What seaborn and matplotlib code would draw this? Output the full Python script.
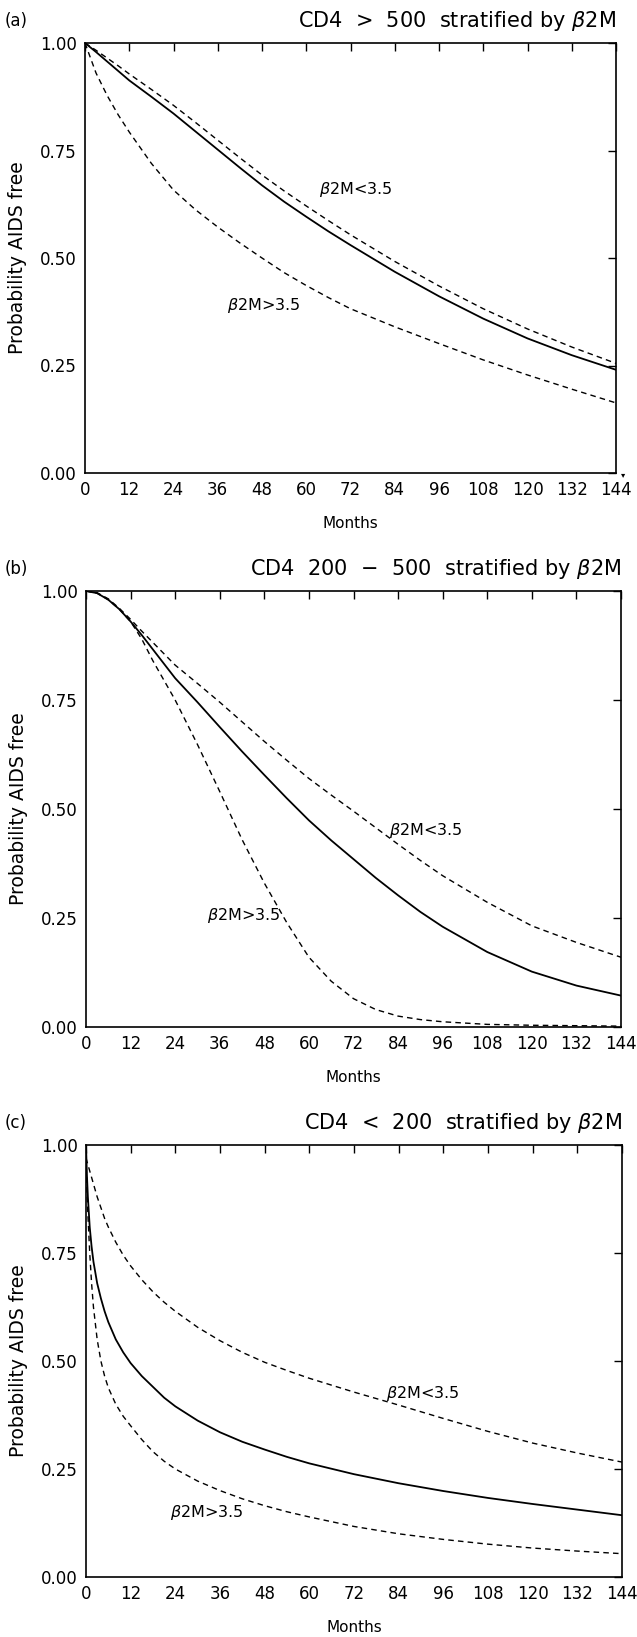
import numpy as np
import pandas as pd
import matplotlib
matplotlib.use("Agg")
import matplotlib.pyplot as plt
import seaborn as sns

# ---------------- data ----------------
months_ticks = [0, 12, 24, 36, 48, 60, 72, 84, 96, 108, 120, 132, 144]
y_ticks = [0.0, 0.25, 0.50, 0.75, 1.00]
y_ticklabels = ["0.00", "0.25", "0.50", "0.75", "1.00"]

panel_letters = ["(a)", "(b)", "(c)"]
panel_titles = [r"CD4  >  500  stratified by $\beta$2M",
                r"CD4  200  $-$  500  stratified by $\beta$2M",
                r"CD4  <  200  stratified by $\beta$2M"]
label_low = r"$\beta$2M<3.5"
label_high = r"$\beta$2M>3.5"

# Panel (a): CD4 > 500
a_months = [0, 3, 6, 9, 12, 18, 24, 30, 36, 42, 48, 54, 60, 66, 72, 84, 96, 108, 120, 132, 144]
a_overall = [1.0, 0.979, 0.957, 0.935, 0.913, 0.875, 0.836, 0.794, 0.752, 0.71, 0.669, 0.631, 0.596, 0.562, 0.53, 0.468, 0.411, 0.359, 0.313, 0.274, 0.24]
a_low = [1.0, 0.983, 0.965, 0.947, 0.928, 0.892, 0.855, 0.815, 0.774, 0.733, 0.693, 0.656, 0.621, 0.587, 0.554, 0.492, 0.435, 0.382, 0.335, 0.293, 0.255]
a_high = [1.0, 0.93, 0.878, 0.833, 0.793, 0.72, 0.658, 0.612, 0.572, 0.535, 0.5, 0.466, 0.436, 0.408, 0.382, 0.34, 0.301, 0.263, 0.228, 0.195, 0.163]

# Panel (b): CD4 200 - 500
b_months = [0, 3, 6, 9, 12, 15, 18, 21, 24, 30, 36, 42, 48, 54, 60, 66, 72, 78, 84, 90, 96, 108, 120, 132, 144]
b_overall = [1.0, 0.995, 0.98, 0.958, 0.93, 0.899, 0.866, 0.833, 0.80, 0.745, 0.688, 0.632, 0.578, 0.525, 0.474, 0.428, 0.385, 0.342, 0.302, 0.264, 0.23, 0.172, 0.127, 0.095, 0.072]
b_low = [1.0, 0.996, 0.982, 0.96, 0.935, 0.908, 0.882, 0.856, 0.83, 0.788, 0.745, 0.70, 0.655, 0.612, 0.57, 0.532, 0.495, 0.457, 0.419, 0.382, 0.347, 0.286, 0.232, 0.194, 0.16]
b_high = [1.0, 0.995, 0.98, 0.958, 0.93, 0.89, 0.84, 0.795, 0.75, 0.648, 0.54, 0.43, 0.33, 0.24, 0.16, 0.105, 0.065, 0.04, 0.025, 0.017, 0.012, 0.006, 0.004, 0.003, 0.002]

# Panel (c): CD4 < 200
c_months = [0, 0.25, 0.5, 1, 1.5, 2, 3, 4, 5, 6, 8, 10, 12, 15, 18, 21, 24, 30, 36, 42, 48, 54, 60, 72, 84, 96, 108, 120, 132, 144]
c_overall = [1.0, 0.93, 0.88, 0.81, 0.765, 0.73, 0.68, 0.645, 0.615, 0.59, 0.55, 0.52, 0.495, 0.465, 0.44, 0.415, 0.395, 0.362, 0.335, 0.313, 0.295, 0.278, 0.263, 0.238, 0.217, 0.199, 0.183, 0.169, 0.156, 0.143]
c_low = [0.97, 0.962, 0.955, 0.94, 0.925, 0.91, 0.88, 0.855, 0.83, 0.81, 0.775, 0.745, 0.72, 0.688, 0.66, 0.636, 0.615, 0.578, 0.547, 0.52, 0.497, 0.478, 0.46, 0.428, 0.398, 0.367, 0.337, 0.31, 0.287, 0.266]
c_high = [0.97, 0.9, 0.84, 0.75, 0.68, 0.625, 0.55, 0.5, 0.465, 0.438, 0.4, 0.372, 0.35, 0.318, 0.29, 0.268, 0.25, 0.222, 0.2, 0.181, 0.165, 0.151, 0.139, 0.117, 0.1, 0.087, 0.076, 0.067, 0.06, 0.054]

# label anchor positions (months, probability) for the stratum labels
low_label_pos = [(63.5, 0.66), (81.5, 0.45), (80.5, 0.425)]
high_label_pos = [(38.5, 0.39), (32.5, 0.255), (22.5, 0.15)]

panels = [
    (a_months, a_overall, a_low, a_high),
    (b_months, b_overall, b_low, b_high),
    (c_months, c_overall, c_low, c_high),
]

# ---------------- figure ----------------
sns.set_style("white")
plt.rcParams["font.family"] = ["DejaVu Sans"]
plt.rcParams["mathtext.fontset"] = "dejavusans"
plt.rcParams["text.color"] = "black"
plt.rcParams["axes.labelcolor"] = "black"

W, H = 637, 1637
fig = plt.figure(figsize=(W / 100, H / 100), dpi=100)

# axes boxes in pixels: left, top, right, bottom
boxes = [(85, 43, 616, 473), (86, 591, 621, 1027), (86, 1145, 622, 1577)]
dash = (0, (4, 3))

for i, (box, (mths, ov, lo, hi)) in enumerate(zip(boxes, panels)):
    l, t, r, b = box
    ax = fig.add_axes([l / W, 1 - b / H, (r - l) / W, (b - t) / H])
    df = pd.DataFrame({"Months": mths, "overall": ov, "low": lo, "high": hi})
    sns.lineplot(data=df, x="Months", y="overall", ax=ax, color="black",
                 linewidth=1.3, sort=True)
    sns.lineplot(data=df, x="Months", y="low", ax=ax, color="black",
                 linewidth=1.0, linestyle=dash, sort=True)
    sns.lineplot(data=df, x="Months", y="high", ax=ax, color="black",
                 linewidth=1.0, linestyle=dash, sort=True)

    ax.set_xlim(0, 144)
    ax.set_ylim(0, 1)
    ax.set_xticks(months_ticks)
    ax.set_xticklabels([str(m) for m in months_ticks])
    ax.set_yticks(y_ticks)
    ax.set_yticklabels(y_ticklabels)
    ax.tick_params(axis="both", direction="in", length=6, width=1.0,
                   top=True, right=True, labelsize=12, colors="black",
                   pad=6)
    for s in ax.spines.values():
        s.set_color("black")
        s.set_linewidth(1.2)
        s.set_visible(True)
    ax.set_xlabel("Months", fontsize=11, labelpad=12)
    ax.set_ylabel("Probability AIDS free", fontsize=13.5, labelpad=9)

    lx, ly = low_label_pos[i]
    hx, hy = high_label_pos[i]
    ax.text(lx, ly, label_low, fontsize=11.5, ha="left", va="center")
    ax.text(hx, hy, label_high, fontsize=11.5, ha="left", va="center")

    # panel letter and title
    fig.text(5 / W, 1 - (t - 22) / H, panel_letters[i], fontsize=12,
             ha="left", va="center")
    fig.text(r / W, 1 - (t - 22) / H, panel_titles[i], fontsize=15,
             ha="right", va="center")

# small mark beside the lower right corner of panel (a)
fig.text(623 / W, 1 - 475 / H, "\u25BE", fontsize=6, ha="center", va="center")

fig.savefig("out.png", dpi=100, facecolor="white")
